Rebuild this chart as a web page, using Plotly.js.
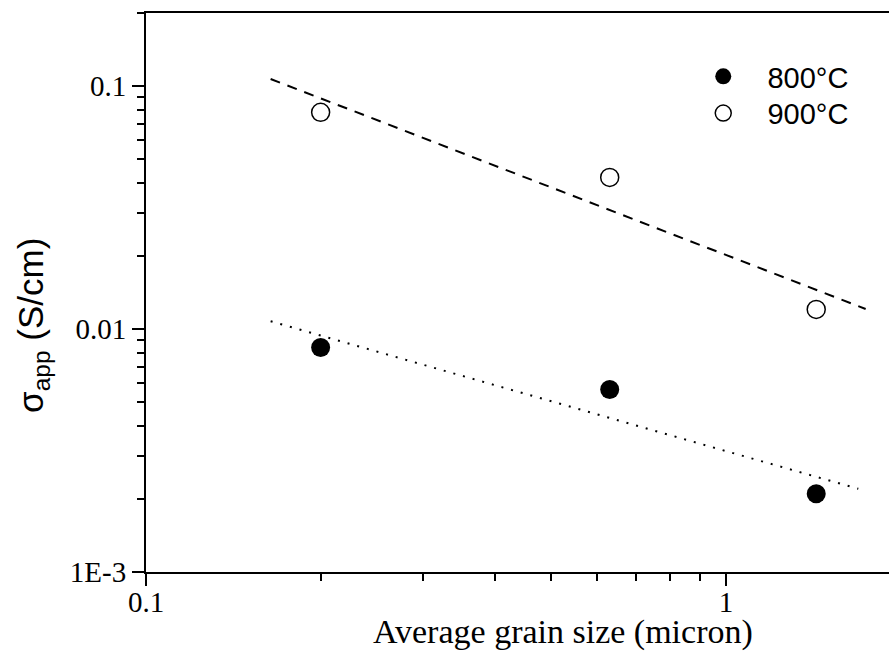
<!DOCTYPE html>
<html>
<head>
<meta charset="utf-8">
<script src="https://cdn.plot.ly/plotly-3.0.1.min.js"></script>
<style>html,body{margin:0;padding:0;background:#fff;}#chart{width:889px;height:652px;}</style>
</head>
<body>
<div id="chart"></div>
<script>
// Data
const grainSize = [0.2, 0.63, 1.43];
const sigma800 = [0.0084, 0.00564, 0.0021];
const sigma900 = [0.078, 0.0421, 0.01205];
const fitX800 = [0.164, 1.69];
const fitY800 = [0.01077, 0.0022];
const fitX900 = [0.164, 1.74];
const fitY900 = [0.107, 0.0121];
const seriesNames = ['800°C', '900°C'];
const xTickVals = [0.1, 1];
const xTickText = ['0.1', '1'];
const yTickVals = [0.001, 0.01, 0.1];
const yTickText = ['1E-3', '0.01', '0.1'];

const serif = 'Liberation Serif, Times New Roman, serif';
const sans = 'Liberation Sans, Arial, sans-serif';
const pad = '\u00a0\u00a0\u00a0';

const traces = [
  {x: fitX900, y: fitY900, mode: 'lines', showlegend: false, hoverinfo: 'skip',
   line: {color: 'black', width: 2, dash: '10px,8px'}},
  {x: fitX800, y: fitY800, mode: 'lines', showlegend: false, hoverinfo: 'skip',
   line: {color: 'black', width: 2, dash: '2px,8px'}},
  {x: grainSize, y: sigma800, mode: 'markers', name: pad + seriesNames[0], legend: 'legend',
   marker: {symbol: 'circle', size: 19, color: 'black'}},
  {x: grainSize, y: sigma900, mode: 'markers', name: pad + seriesNames[1], legend: 'legend2',
   marker: {symbol: 'circle-open', size: 18, color: 'black', line: {width: 1.5, color: 'black'}}}
];

const axisCommon = {
  type: 'log', showline: true, linewidth: 2, linecolor: 'black',
  ticks: 'outside', ticklen: 12, tickwidth: 2, tickcolor: 'black',
  showgrid: false, zeroline: false, tickmode: 'array',
  tickfont: {family: serif, size: 29, color: 'black'},
  minor: {ticks: 'outside', ticklen: 7, tickwidth: 2, tickcolor: 'black', dtick: 'D1', showgrid: false}
};

const legendCommon = {xanchor: 'left', yanchor: 'top', bgcolor: 'rgba(0,0,0,0)',
  font: {family: sans, size: 29, color: 'black'}, tracegroupgap: 0};

const layout = {
  width: 889, height: 652,
  margin: {l: 146, r: 0, t: 13, b: 80, pad: 0},
  paper_bgcolor: 'white', plot_bgcolor: 'white',
  xaxis: Object.assign({}, axisCommon, {
    range: [-1, 0.2808], mirror: true, ticklabelstandoff: -9,
    tickvals: xTickVals, ticktext: xTickText
  }),
  yaxis: Object.assign({}, axisCommon, {
    range: [-3, -0.699], mirror: false,
    tickvals: yTickVals, ticktext: yTickText
  }),
  legend: Object.assign({}, legendCommon, {x: 0.75, y: 0.932}),
  legend2: Object.assign({}, legendCommon, {x: 0.75, y: 0.8663}),
  annotations: [
    {text: 'Average grain size (micron)', xref: 'paper', yref: 'paper', x: 0.5615, y: -0.108,
     xanchor: 'center', yanchor: 'middle', showarrow: false,
     font: {family: serif, size: 34, color: 'black'}},
    {text: 'σ<sub>app</sub> (S/cm)', xref: 'paper', yref: 'paper', x: -0.1515, y: 0.441,
     xanchor: 'center', yanchor: 'middle', showarrow: false, textangle: -90,
     font: {family: sans, size: 35, color: 'black'}}
  ]
};

Plotly.newPlot('chart', traces, layout, {displayModeBar: false, staticPlot: true});
</script>
</body>
</html>
